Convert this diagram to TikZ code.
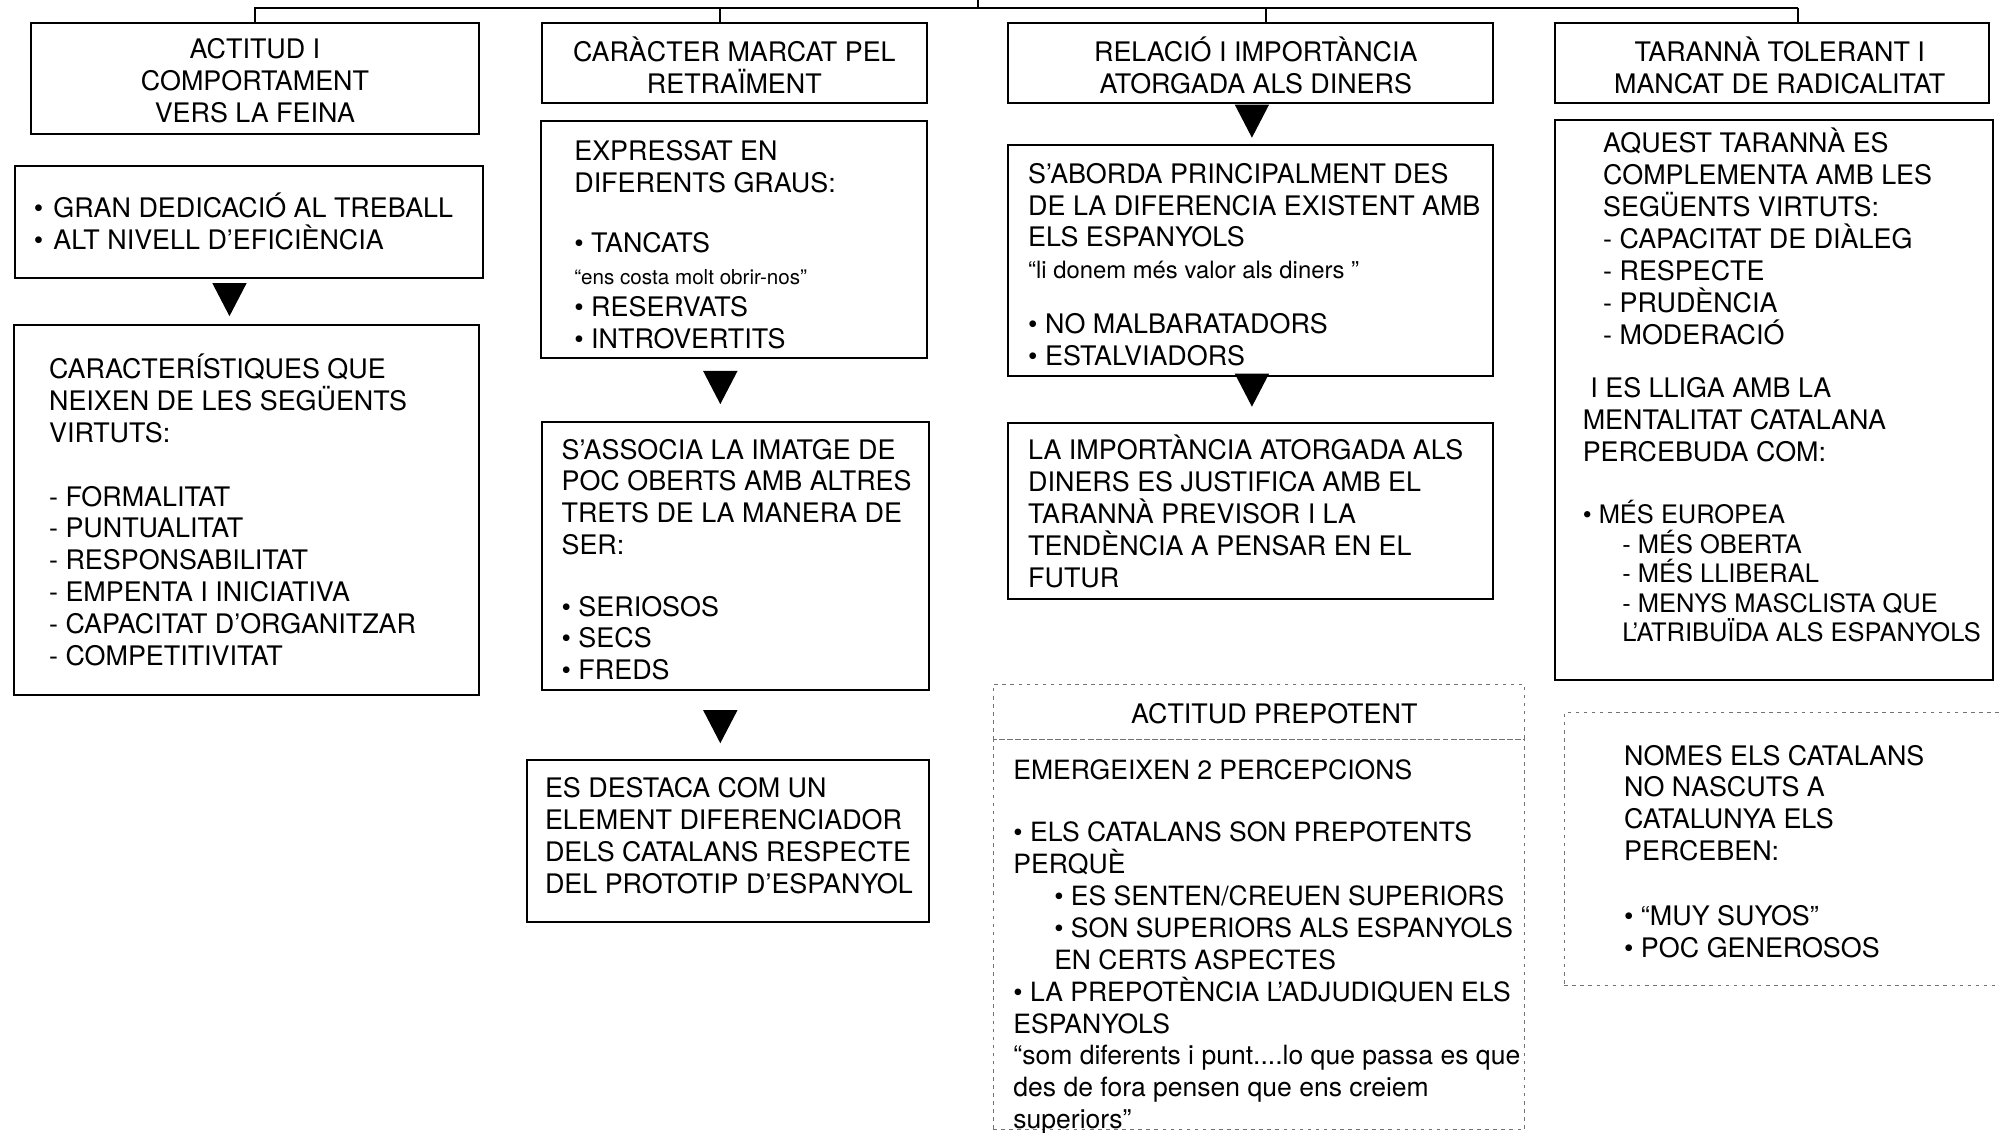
\documentclass[tikz,border=0pt]{standalone}
\usepackage{fontspec}
\setmainfont{TeX Gyre Heros}
\usetikzlibrary{positioning,fit}
\newcommand{\smallfnt}{\fontsize{14.2}{16.4}\selectfont}

\begin{document}
\begin{tikzpicture}[x=0.025cm,y=-0.025cm,
  every node/.style={font=\fontsize{15}{17.8}\selectfont},
  box/.style={draw, line width=1.1pt, inner sep=0pt},
  dbox/.style={draw=black!55, line width=0.5pt, dash pattern=on 2pt off 2.5pt, inner sep=0pt},
  head/.style={align=center, inner sep=0pt},
  txt/.style={inner sep=0pt, align=left},
  conn/.style={line width=1.1pt},
  tri/.pic={\fill (-13.5,0) -- (13.5,0) -- (0,26) -- cycle;}]
\clip (0,0) rectangle (1568,888);

% headers
\node[box, fit={(24,18) (376,105)}] (h1) {};
\node[head, yshift=-0.05cm] (l1) at (h1.center) {ACTITUD I\\COMPORTAMENT\\VERS LA FEINA};
\node[box, fit={(425,18) (727,81)}] (h2) {};
\node[head, yshift=-0.04cm] (l2) at (h2.center) {CARÀCTER MARCAT PEL\\RETRAÏMENT};
\node[box, fit={(791,18) (1171,81)}] (h3) {};
\node[head, yshift=-0.04cm, xshift=0.1cm] (l3) at (h3.center) {RELACIÓ I IMPORTÀNCIA\\ATORGADA ALS DINERS};
\node[box, fit={(1220,18) (1560,81)}] (h4) {};
\node[head, yshift=-0.04cm, xshift=0.15cm] (l4) at (h4.center) {TARANNÀ TOLERANT I\\MANCAT DE RADICALITAT};

% fork at the top
\coordinate (top) at (767,0);
\coordinate (fork) at (767,6);
\coordinate (d2) at (565,6);
\coordinate (d3) at (993,6);
\coordinate (d4) at (1410,6);
\draw[conn] (top) -- (fork);
\draw[conn] (h1.north) |- (d4);
\draw[conn] (d2) -- (d2 |- h2.north);
\draw[conn] (d3) -- (d3 |- h3.north);
\draw[conn] (d4) -- (d4 |- h4.north);

% column 1
\node[box, fit={(12,130) (379,218)}] (b1) {};
\node[txt, right=0.375cm of b1.west] (t1) {•\hspace{0.2cm}GRAN DEDICACIÓ AL TREBALL\\•\hspace{0.2cm}ALT NIVELL D’EFICIÈNCIA};
\pic at (180,222) {tri};
\node[box, fit={(11,255) (376,545)}] (b2) {};
\node[txt, right=0.7cm of b2.west] (t2) {CARACTERÍSTIQUES QUE\\NEIXEN DE LES SEGÜENTS\\VIRTUTS:\\[0.625cm]- FORMALITAT\\- PUNTUALITAT\\- RESPONSABILITAT\\- EMPENTA I INICIATIVA\\- CAPACITAT D’ORGANITZAR\\- COMPETITIVITAT};

% column 2
\node[box, fit={(424,95) (727,281)}] (b3) {};
\node[txt, right=0.675cm of b3.west, yshift=-0.1cm] (t3) {EXPRESSAT EN\\DIFERENTS GRAUS:\\[0.55cm]• TANCATS\\{\fontsize{11.5}{15}\selectfont “ens costa molt obrir-nos”}\\• RESERVATS\\• INTROVERTITS};
\pic at (565,291) {tri};
\node[box, fit={(425,331) (729,541)}] (b4) {};
\node[txt, right=0.4cm of b4.west, yshift=-0.075cm] (t4) {S’ASSOCIA LA IMATGE DE\\POC OBERTS AMB ALTRES\\TRETS DE LA MANERA DE\\SER:\\[0.575cm]• SERIOSOS\\• SECS\\• FREDS};
\pic at (565,557) {tri};
\node[box, fit={(413,596) (729,723)}] (b5) {};
\node[txt, right=0.375cm of b5.west, yshift=0.1cm] (t5) {ES DESTACA COM UN\\ELEMENT DIFERENCIADOR\\DELS CATALANS RESPECTE\\DEL PROTOTIP D’ESPANYOL};

% column 3
\pic at (982,82) {tri};
\node[box, fit={(791,114) (1171,295)}] (b6) {};
\node[txt, right=0.4cm of b6.west, yshift=-0.075cm] (t6) {S’ABORDA PRINCIPALMENT DES\\DE LA DIFERENCIA EXISTENT AMB\\ELS ESPANYOLS\\{\fontsize{13.3}{16}\selectfont “li donem més valor als diners ”}\\[0.45cm]• NO MALBARATADORS\\• ESTALVIADORS};
\pic at (982,293) {tri};
\node[box, fit={(791,332) (1171,470)}] (b7) {};
\node[txt, right=0.4cm of b7.west] (t7) {LA IMPORTÀNCIA ATORGADA ALS\\DINERS ES JUSTIFICA AMB EL\\TARANNÀ PREVISOR I LA\\TENDÈNCIA A PENSAR EN EL\\FUTUR};
\node[dbox, fit={(779,537) (1196,580)}] (p1) {};
\node[head, xshift=0.3cm, yshift=-0.04cm] (lp) at (p1.center) {ACTITUD PREPOTENT};
\node[dbox, fit={(779,580) (1196,886)}] (p2) {};
\node[txt, font=\fontsize{14.8}{17.8}\selectfont, below right=0.39cm and 0.4cm of p2.north west] (tp) {EMERGEIXEN 2 PERCEPCIONS\\[0.6cm]• ELS CATALANS SON PREPOTENTS\\PERQUÈ\\\hspace{0.8cm}• ES SENTEN/CREUEN SUPERIORS\\\hspace{0.8cm}• SON SUPERIORS ALS ESPANYOLS\\\hspace{0.8cm}EN CERTS ASPECTES\\• LA PREPOTÈNCIA L’ADJUDIQUEN ELS\\ESPANYOLS\\“som diferents i punt....lo que passa es que\\des de fora pensen que ens creiem\\superiors”};

% column 4
\node[box, fit={(1220,94) (1563,533)}] (b8) {};
\node[txt, right=0.55cm of b8.west, yshift=0.29cm] (t8) {\hspace{0.4cm}AQUEST TARANNÀ ES\\\hspace{0.4cm}COMPLEMENTA AMB LES\\\hspace{0.4cm}SEGÜENTS VIRTUTS:\\\hspace{0.4cm}- CAPACITAT DE DIÀLEG\\\hspace{0.4cm}- RESPECTE\\\hspace{0.4cm}- PRUDÈNCIA\\\hspace{0.4cm}- MODERACIÓ\\[0.425cm]\hspace{0.15cm}I ES LLIGA AMB LA\\MENTALITAT CATALANA\\PERCEBUDA COM:\\[0.6cm]\smallfnt • MÉS EUROPEA\\[-0.05cm]\smallfnt\hspace{0.775cm}- MÉS OBERTA\\[-0.05cm]\smallfnt\hspace{0.775cm}- MÉS LLIBERAL\\[-0.05cm]\smallfnt\hspace{0.775cm}- MENYS MASCLISTA QUE\\[-0.05cm]\smallfnt\hspace{0.775cm}L’ATRIBUÏDA ALS ESPANYOLS};
\node[dbox, fit={(1227,559) (1572,773)}] (n1) {};
\node[txt, right=1.175cm of n1.west, yshift=-0.05cm] (tn) {NOMES ELS CATALANS\\NO NASCUTS A\\CATALUNYA ELS\\PERCEBEN:\\[0.65cm]• “MUY SUYOS”\\• POC GENEROSOS};
\end{tikzpicture}
\end{document}
